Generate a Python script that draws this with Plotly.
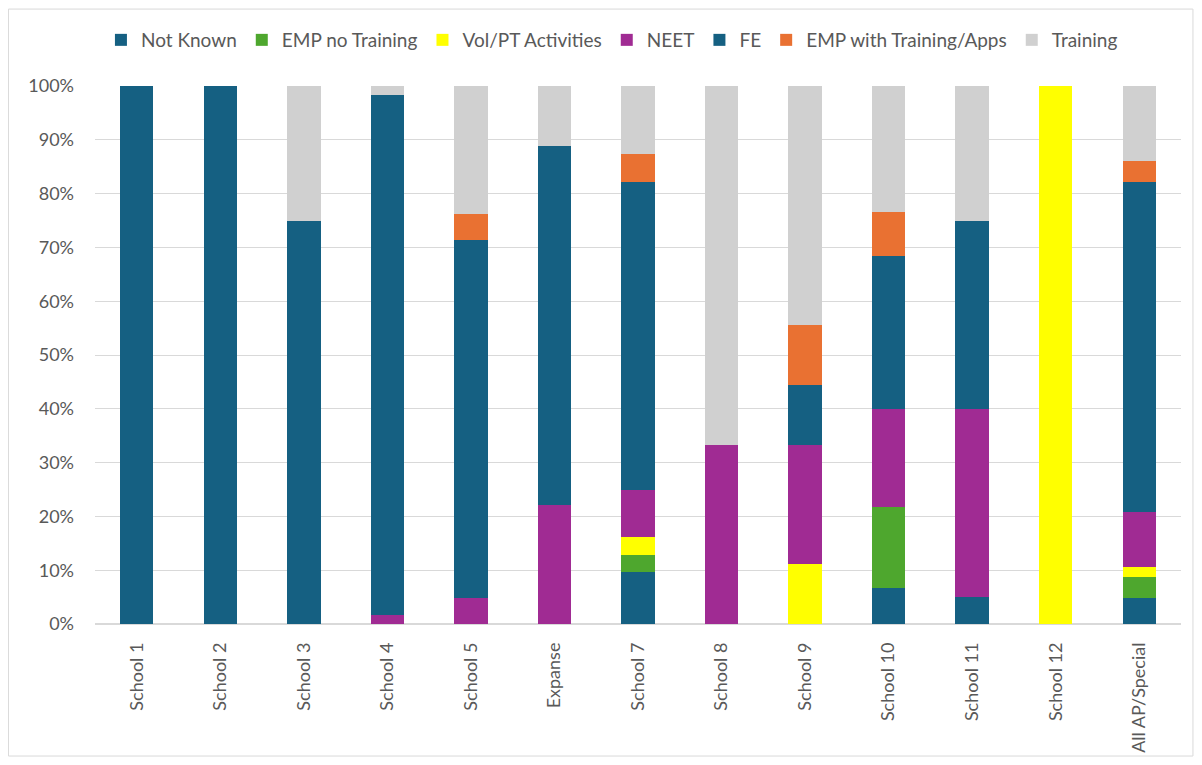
import plotly.graph_objects as go

categories = ["School 1", "School 2", "School 3", "School 4", "School 5", "Expanse",
              "School 7", "School 8", "School 9", "School 10", "School 11", "School 12",
              "All AP/Special"]

not_known    = [0, 0, 0, 0, 0, 0, 9.6, 0, 0, 6.67, 5, 0, 4.9]
emp_no_train = [0, 0, 0, 0, 0, 0, 3.3, 0, 0, 15.0, 0, 0, 3.9]
vol_pt       = [0, 0, 0, 0, 0, 0, 3.3, 0, 11.1, 0, 0, 100, 1.8]
neet         = [0, 0, 0, 1.7, 4.76, 22.2, 8.8, 33.3, 22.2, 18.33, 35, 0, 10.3]
fe           = [100, 100, 75, 96.6, 66.67, 66.7, 57.2, 0, 11.1, 28.33, 35, 0, 61.3]
emp_w_train  = [0, 0, 0, 0, 4.76, 0, 5.1, 0, 11.1, 8.33, 0, 0, 3.8]
training     = [0, 0, 25, 1.7, 23.81, 11.1, 12.7, 66.7, 44.5, 23.34, 25, 0, 14.0]

series_names = ["Not Known", "EMP no Training", "Vol/PT Activities", "NEET", "FE",
                "EMP with Training/Apps", "Training"]
series_values = [not_known, emp_no_train, vol_pt, neet, fe, emp_w_train, training]
series_colors = ["#156082", "#4EA72E", "#FFFF00", "#A02B93", "#156082", "#E97132", "#D0D0D0"]

fig = go.Figure()
for name, vals, col in zip(series_names, series_values, series_colors):
    fig.add_trace(go.Bar(
        x=categories, y=[v / 100 for v in vals], name=name,
        marker=dict(color=col, line=dict(width=0)),
        width=0.4,
        hovertemplate="%{x}<br>" + name + ": %{y:.1%}<extra></extra>",
    ))

font_family = "Lato, Liberation Sans, Arial, sans-serif"
fig.update_layout(
    barmode="stack",
    width=1186, height=749,
    paper_bgcolor="white", plot_bgcolor="white",
    margin=dict(l=87, r=13, t=78, b=133, autoexpand=False),
    font=dict(family=font_family, color="#595959", size=18),
    legend=dict(orientation="h", x=0.476, xanchor="center", y=1.0855, yanchor="middle",
                traceorder="normal", font=dict(size=19, color="#595959"),
                itemwidth=30),
    xaxis=dict(tickangle=-90, tickfont=dict(size=18, color="#595959"),
               showgrid=False, showline=False, ticks="", ticklabelstandoff=14),
    yaxis=dict(range=[0, 1], tickformat=".0%", dtick=0.1,
               gridcolor="#D9D9D9", gridwidth=1, zeroline=True, zerolinecolor="#D9D9D9",
               tickfont=dict(size=18, color="#595959"), ticks="", ticklabelstandoff=20),
    shapes=[dict(type="rect", xref="paper", yref="paper", x0=-0.0797, x1=1.011,
                 y0=-0.2454, y1=1.143, line=dict(color="#D9D9D9", width=1))],
)

fig.write_html("out.html")
